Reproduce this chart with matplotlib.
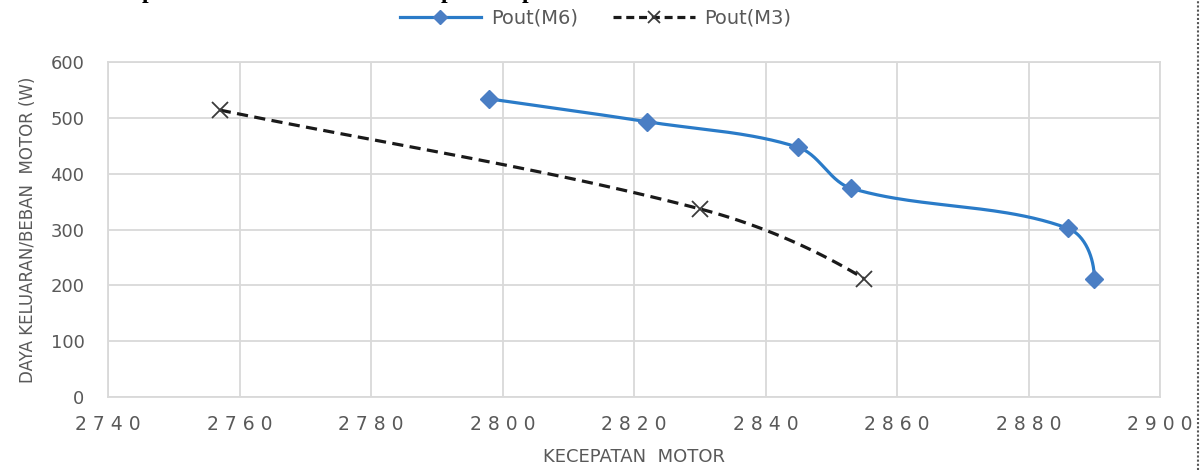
import matplotlib
matplotlib.use('Agg')
import matplotlib.pyplot as plt
from matplotlib.lines import Line2D
import numpy as np

# speed vs. output power for the two motors
speed_m6 = [2798, 2822, 2845, 2853, 2886, 2890]
pout_m6 = [534, 493, 447, 374, 302, 212]
speed_m3 = [2757, 2830, 2855]
pout_m3 = [514, 337, 212]

x_ticks = [2740, 2760, 2780, 2800, 2820, 2840, 2860, 2880, 2900]
y_ticks = [0, 100, 200, 300, 400, 500, 600]

GRAY_TXT = '#595959'
GRID = '#d9d9d9'


def unit(v):
	return v / np.hypot(*v)


def smooth(ax, xs, ys, n=50, k=1/3.):
	# smoothed line: cubic bezier per segment, tangents taken in screen space
	# so the curve keeps its shape whatever the axis scales are
	p = ax.transData.transform(np.column_stack([xs, ys]).astype(float))
	m = len(p)
	tang = [None] * m
	for i in range(1, m - 1):
		tang[i] = unit(p[i + 1] - p[i - 1])
	# start follows the first chord, end is mirrored off its neighbour
	tang[0] = unit(p[1] - p[0])
	if m > 2:
		tang[-1] = unit(2 * unit(p[-1] - p[-2]) - tang[-2])
	else:
		tang[-1] = tang[0]
	out = []
	for i in range(m - 1):
		p1, p2 = p[i], p[i + 1]
		L = np.hypot(*(p2 - p1)) * k
		c1 = p1 + tang[i] * L
		c2 = p2 - tang[i + 1] * L
		t = np.linspace(0, 1, n)[:, None]
		seg = ((1 - t) ** 3) * p1 + 3 * ((1 - t) ** 2) * t * c1 + 3 * (1 - t) * t ** 2 * c2 + t ** 3 * p2
		out.append(seg if i == 0 else seg[1:])
	out = ax.transData.inverted().transform(np.vstack(out))
	return out[:, 0], out[:, 1]


fig = plt.figure(figsize=(12.03, 4.70), dpi=100)
ax = fig.add_axes([0.0898, 0.1553, 0.8745, 0.7127])
ax.set_xlim(2740, 2900)
ax.set_ylim(0, 600)

sx, sy = smooth(ax, speed_m6, pout_m6)
ax.plot(sx, sy, color='#2a7bc8', lw=2.3, solid_capstyle='round', zorder=3)
ax.plot(speed_m6, pout_m6, ls='none', marker='D', ms=9, color='#4a7ec4', zorder=4)

mx, my = smooth(ax, speed_m3, pout_m3)
ax.plot(mx, my, color='#1a1a1a', lw=2.3, ls=(0, (3.5, 2.0)), zorder=3)
ax.plot(speed_m3, pout_m3, ls='none', marker='x', ms=12, mew=1.3, color='#3a3a3a', zorder=4)

ax.set_xticks(x_ticks)
ax.set_yticks(y_ticks)
ax.set_xticklabels([' '.join(str(v)) for v in x_ticks])
ax.tick_params(axis='x', length=0, pad=13, labelsize=13.5, labelcolor=GRAY_TXT)
ax.tick_params(axis='y', length=0, pad=17, labelsize=13, labelcolor=GRAY_TXT)
ax.grid(True, color=GRID, lw=1.3)
ax.set_axisbelow(True)
for s in ax.spines.values():
	s.set_color(GRID)
	s.set_linewidth(1.3)

ax.set_xlabel('KECEPATAN  MOTOR', fontsize=13, color=GRAY_TXT, labelpad=10)
ax.set_ylabel('DAYA KELUARAN/BEBAN  MOTOR (W)', fontsize=12, color=GRAY_TXT, labelpad=10)

handles = [
	Line2D([], [], color='#2a7bc8', lw=2.3, marker='D', ms=7, mfc='#4a7ec4', mec='#4a7ec4'),
	Line2D([], [], color='#1a1a1a', lw=2.3, ls=(0, (2.5, 1.5)), marker='x', ms=9, mew=1.3, mec='#3a3a3a'),
]
fig.legend(handles, ['Pout(M6)', 'Pout(M3)'], loc='center', bbox_to_anchor=(0.495, 1 - 18 / 470),
	ncol=2, frameon=False, fontsize=14, labelcolor=GRAY_TXT, handlelength=4.2,
	handletextpad=0.5, columnspacing=1.8)

# descenders of the heading line above the chart
for xp in (148, 447, 528):
	fig.text(xp / 1203, 1 + 2 / 470, 'p', fontsize=17, fontweight='bold', family='Liberation Serif',
		color='black', ha='center', va='baseline')

# dotted frame edge on the right
fig.add_artist(Line2D([1198 / 1203, 1198 / 1203], [0, 1], transform=fig.transFigure,
	color='#555555', lw=1.5, ls=(0, (1, 1))))

fig.savefig('out.png', dpi=100)
